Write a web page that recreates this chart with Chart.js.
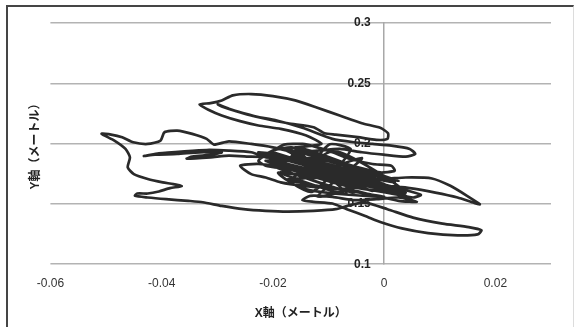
<!DOCTYPE html>
<html>
<head>
<meta charset="utf-8">
<script src="https://cdn.jsdelivr.net/npm/chart.js@4.4.0/dist/chart.umd.min.js"></script>
<style>
  html, body { margin:0; padding:0; background:#fff; }
  #wrap { position:relative; width:577px; height:327px; overflow:hidden; }
  #frame { position:absolute; left:6px; top:5px; right:3px; bottom:-4px;
    border-left:2px solid #454545; border-top:2px solid #454545; border-right:1px solid #dcdcdc; pointer-events:none; }
  canvas { position:absolute; left:0; top:0; }
</style>
</head>
<body>
<div id="wrap">
  <div id="frame"></div>
  <canvas id="chart" width="577" height="327"></canvas>
</div>
<script>
// trajectory (metres)
const xVals = [
  -0.0107,-0.0060,-0.0014,0.0039,0.0086,0.0119,0.0149,0.0172,0.0162,0.0132,0.0092,0.0046,0.0006,-0.0040,-0.0080,-0.0120,
  -0.0160,-0.0186,-0.0200,-0.0173,-0.0127,-0.0074,-0.0027,0.0013,0.0039,0.0013,-0.0034,-0.0080,-0.0127,-0.0173,-0.0213,-0.0226,
  -0.0200,-0.0166,-0.0127,-0.0087,-0.0047,-0.0007,0.0019,0.0013,-0.0021,-0.0060,-0.0093,-0.0120,-0.0147,-0.0180,-0.0193,
  -0.0113,-0.0140,-0.0186,-0.0226,-0.0259,-0.0292,-0.0316,-0.0332,-0.0312,-0.0292,-0.0272,-0.0239,-0.0200,-0.0160,-0.0120,
  -0.0080,-0.0040,-0.0007,0.0007,0.0006,-0.0014,-0.0047,-0.0087,-0.0107,-0.0127,-0.0173,-0.0226,-0.0266,-0.0292,-0.0299,
  -0.0279,-0.0239,-0.0193,-0.0147,-0.0093,-0.0054,-0.0021,0.0013,0.0046,0.0056,0.0039,-0.0001,-0.0040,-0.0080,-0.0120,
  -0.0160,-0.0200,-0.0239,-0.0279,-0.0306,-0.0319,-0.0345,-0.0372,-0.0395,-0.0402,-0.0425,-0.0451,-0.0471,-0.0491,-0.0508,
  -0.0485,-0.0465,-0.0457,-0.0461,-0.0450,-0.0425,-0.0398,-0.0379,-0.0364,-0.0385,-0.0405,-0.0425,-0.0444,-0.0448,-0.0425,
  -0.0392,-0.0352,-0.0326,-0.0292,-0.0253,-0.0213,-0.0173,-0.0127,-0.0087,-0.0060,-0.0034,
  0.0006,0.0052,0.0105,0.0152,0.0175,0.0168,0.0132,0.0079,0.0032,-0.0007,-0.0034,-0.0067,-0.0093,-0.0127,-0.0147,-0.0133,
  -0.0093,-0.0054,-0.0014,0.0026,0.0059,0.0026,
  -0.0027,-0.0067,-0.0107,-0.0147,-0.0186,-0.0213,-0.0239,-0.0259,-0.0226,-0.0180,-0.0133,-0.0093,-0.0054,-0.0014,0.0019,
  0.0052,0.0066,0.0032,-0.0007,-0.0054,-0.0093,-0.0133,-0.0173,-0.0206,-0.0226,-0.0200,-0.0160,-0.0120,-0.0080,-0.0040,
  -0.0001,0.0026,-0.0001,-0.0040,-0.0080,-0.0120,-0.0160,-0.0193,
  -0.0239,-0.0279,-0.0312,-0.0355,-0.0345,-0.0309,-0.0292,-0.0332,-0.0372,-0.0412,-0.0432,-0.0405,-0.0359,-0.0319,-0.0279,
  -0.0239,-0.0213,-0.0173,-0.0133,-0.0107,
  -0.0200,-0.0027,-0.0186,0.0013,-0.0213,-0.0040,-0.0180,-0.0001,-0.0166,0.0032,-0.0193,-0.0054,
  -0.0160,0.0019,-0.0206,-0.0021,-0.0173,0.0039,-0.0147,0.0006,-0.0186,-0.0067,-0.0160,-0.0027,
  -0.0175,0.0000,-0.0150,-0.0100,-0.0060,-0.0130,-0.0190,0.0030,-0.0090,-0.0170,-0.0040,-0.0120,-0.0020,-0.0210
];
const yVals = [
  0.1775,0.1747,0.1706,0.1719,0.1711,0.1650,0.1567,0.1497,0.1508,0.1553,0.1594,0.1631,0.1650,0.1678,0.1719,0.1761,
  0.1803,0.1831,0.1886,0.1858,0.1803,0.1747,0.1678,0.1636,0.1594,0.1608,0.1650,0.1692,0.1747,0.1789,0.1817,0.1858,
  0.1942,0.1969,0.1914,0.1858,0.1803,0.1761,0.1775,0.1817,0.1831,0.1872,0.1928,0.1969,0.1997,0.1992,0.1956,
  0.1997,0.2067,0.2122,0.2150,0.2186,0.2233,0.2281,0.2325,0.2336,0.2358,0.2400,0.2411,0.2394,0.2358,0.2297,
  0.2233,0.2169,0.2131,0.2086,0.2039,0.2031,0.2053,0.2075,0.2086,0.2136,0.2169,0.2219,0.2269,0.2308,0.2325,
  0.2289,0.2233,0.2192,0.2131,0.2039,0.2011,0.1997,0.1983,0.1956,0.1914,0.1892,0.1908,0.1928,0.1956,0.1942,
  0.1928,0.1969,0.1997,0.2019,0.1992,0.2039,0.2081,0.2108,0.2094,0.2025,0.1997,0.2011,0.2053,0.2075,0.2081,
  0.2025,0.1956,0.1886,0.1803,0.1747,0.1706,0.1678,0.1664,0.1647,0.1631,0.1603,0.1586,0.1586,0.1567,0.1553,
  0.1539,0.1525,0.1514,0.1483,0.1456,0.1442,0.1436,0.1442,0.1456,0.1492,0.1511,
  0.1456,0.1386,0.1336,0.1308,0.1281,0.1247,0.1239,0.1258,0.1297,0.1350,0.1400,0.1456,0.1503,0.1517,0.1531,0.1567,
  0.1558,0.1531,0.1539,0.1553,0.1517,0.1525,
  0.1581,0.1622,0.1636,0.1650,0.1678,0.1719,0.1747,0.1817,0.1831,0.1803,0.1733,0.1678,0.1636,0.1608,0.1581,
  0.1553,0.1575,0.1622,0.1669,0.1719,0.1761,0.1808,0.1858,0.1900,0.1928,0.1914,0.1858,0.1803,0.1775,0.1747,
  0.1719,0.1692,0.1733,0.1789,0.1831,0.1872,0.1886,0.1886,
  0.1892,0.1900,0.1886,0.1875,0.1892,0.1908,0.1928,0.1928,0.1914,0.1908,0.1897,0.1919,0.1936,0.1947,0.1942,
  0.1928,0.1886,0.1831,0.1789,0.1775,
  0.1928,0.1678,0.1886,0.1636,0.1858,0.1636,0.1956,0.1719,0.1900,0.1594,0.1803,0.1594,
  0.1942,0.1678,0.1886,0.1608,0.1831,0.1567,0.1886,0.1650,0.1761,0.1581,0.1969,0.1747,
  0.1700,0.1560,0.1640,0.1990,0.1950,0.1600,0.1760,0.1620,0.1940,0.1680,0.1880,0.1560,0.1700,0.1900
];
const xTicks = [-0.06, -0.04, -0.02, 0, 0.02];
const yTicks = [0.1, 0.15, 0.2, 0.25, 0.3];
const xTitle = 'X軸（メートル）';
const yTitle = 'Y軸（メートル）';

const sans = "'Liberation Sans Narrow', 'Liberation Sans', 'Noto Sans CJK JP', sans-serif";
const fmt = v => String(+Number(v).toFixed(2));

new Chart(document.getElementById('chart').getContext('2d'), {
  type: 'scatter',
  data: {
    datasets: [{
      data: xVals.map((x, i) => ({ x, y: yVals[i] })),
      showLine: true,
      borderColor: '#2a2a2a',
      borderWidth: 2.7,
      pointRadius: 0,
      tension: 0.2
    }]
  },
  options: {
    responsive: false,
    animation: false,
    layout: { padding: { left: 28, right: 26, top: 23, bottom: 2 } },
    plugins: { legend: { display: false }, tooltip: { enabled: false } },
    scales: {
      x: {
        type: 'linear', min: -0.06, max: 0.03,
        afterBuildTicks: s => { s.ticks = xTicks.map(v => ({ value: v })); },
        grid: { display: false },
        border: { display: false },
        ticks: { padding: 4, color: '#333', font: { family: sans, size: 12 }, callback: fmt },
        title: { display: true, text: xTitle, color: '#222', padding: { top: 12, bottom: 4 },
          font: { family: sans, size: 12, weight: 'bold' } }
      },
      y: {
        type: 'linear', min: 0.1, max: 0.3,
        position: { x: 0 },
        afterBuildTicks: s => { s.ticks = yTicks.map(v => ({ value: v })); },
        grid: { color: '#b3b3b3', lineWidth: 1.5, drawTicks: false },
        border: { color: '#a8a8a8', width: 1.5 },
        ticks: { color: '#222', font: { family: "'Liberation Sans', sans-serif", size: 12, weight: 'bold' },
          callback: v => fmt(v) + '    ' }
      },
      yTitle: {
        type: 'linear', position: 'left', min: 0.1, max: 0.3,
        grid: { display: false }, border: { display: false },
        ticks: { display: false },
        title: { display: true, text: yTitle, color: '#222', padding: { top: 0, bottom: 0 },
          font: { family: sans, size: 12, weight: 'bold' } }
      }
    }
  }
});
</script>
</body>
</html>
